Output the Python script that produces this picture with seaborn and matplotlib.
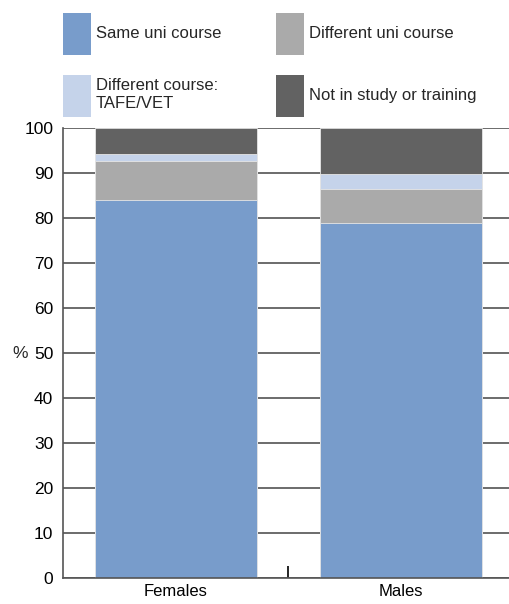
import matplotlib
matplotlib.use("Agg")
import matplotlib.pyplot as plt
import seaborn as sns
import pandas as pd
import numpy as np
from matplotlib.patches import Patch

categories = ["Females", "Males"]
series_names = ["Same uni course", "Different uni course",
                "Different course:\nTAFE/VET", "Not in study or training"]
same_uni = [84.1, 78.8]
diff_uni = [8.6, 7.6]
tafe_vet = [1.5, 3.4]
not_study = [5.8, 10.2]
colors = ["#789CCB", "#AAAAAA", "#C5D3EA", "#626262"]
yticks = [0, 10, 20, 30, 40, 50, 60, 70, 80, 90, 100]

sns.set_theme(style="white")
plt.rcParams["font.family"] = ["Liberation Sans", "DejaVu Sans"]

series = [same_uni, diff_uni, tafe_vet, not_study]
cum = np.cumsum(np.array(series), axis=0)

fig = plt.figure(figsize=(5.1, 6.04), dpi=100)
ax = fig.add_axes([0.1235, 0.043, 0.883, 0.745])

# draw cumulative stacks from tallest to shortest so lower ones overlay
for i in range(len(series) - 1, -1, -1):
    df = pd.DataFrame({"cat": categories, "val": cum[i]})
    sns.barplot(data=df, x="cat", y="val", color=colors[i], ax=ax,
                width=0.72, edgecolor="#e6e6e6", linewidth=0.6,
                saturation=1)

ax.set_xlim(-0.5, 1.5)
ax.set_ylim(0, 100)
ax.set_yticks(yticks)
ax.set_axisbelow(True)
ax.yaxis.grid(True, color="#444444", linewidth=1.1)
ax.xaxis.grid(False)
for s in ["top", "right"]:
    ax.spines[s].set_visible(False)
ax.spines["left"].set_color("#555555")
ax.spines["bottom"].set_color("#555555")
ax.spines["left"].set_linewidth(1.2)
ax.spines["bottom"].set_linewidth(1.2)
ax.tick_params(axis="y", length=0, labelsize=12.5, pad=7, colors="black")
ax.tick_params(axis="x", length=0, labelsize=12, pad=4, colors="black")
ax.set_xticks([0.5], minor=True)
ax.tick_params(axis="x", which="minor", direction="in", length=9,
               width=1.2, color="black", bottom=True)
ax.set_xlabel("")
ax.set_ylabel("%", rotation=0, fontsize=12.5, ha="center", va="center")
ax.yaxis.set_label_coords(-0.095, 0.5)

handles = [Patch(facecolor=colors[i], edgecolor="none") for i in range(4)]
order = [0, 2, 1, 3]
fig.legend([handles[i] for i in order], [series_names[i] for i in order],
           ncol=2, loc="upper left", bbox_to_anchor=(0.111, 0.99),
           frameon=False, fontsize=12, handlelength=1.65,
           handleheight=3.5, handletextpad=0.3, columnspacing=3.3,
           labelspacing=1.2, borderaxespad=0.0)

fig.savefig("out.png", dpi=100)
